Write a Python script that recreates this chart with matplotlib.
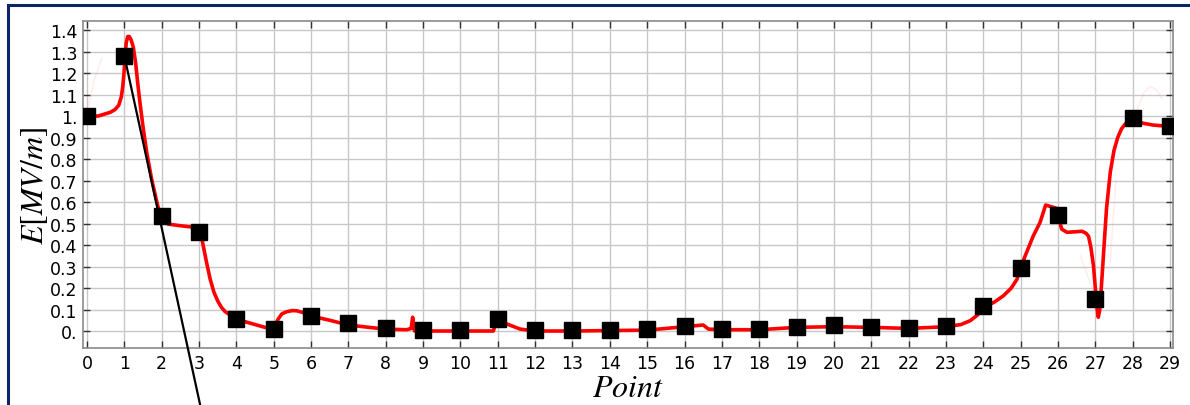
import matplotlib
matplotlib.use("Agg")
import matplotlib.pyplot as plt
from matplotlib.patches import Rectangle
from matplotlib.ticker import FixedLocator, FuncFormatter

plt.rcParams["mathtext.fontset"] = "stix"

# Field strength E at each measurement point (square markers)
points = list(range(30))
e_points = [1.00, 1.28, 0.535, 0.46, 0.055, 0.01, 0.07, 0.035, 0.012, 0.003,
            0.003, 0.055, 0.005, 0.003, 0.003, 0.01, 0.025, 0.01, 0.01, 0.02,
            0.03, 0.02, 0.015, 0.025, 0.115, 0.295, 0.54, 0.15, 0.99, 0.955]

# Red curve
curve_x = [0.0, 0.3, 0.62, 0.75, 0.85, 0.92, 0.96, 0.99, 1.02, 1.05, 1.09,
           1.13, 1.18, 1.24, 1.3, 1.36, 1.42, 1.5, 1.6, 1.73, 1.87, 1.95,
           2.05, 2.18, 2.49, 2.89, 2.98, 3.05, 3.12, 3.2, 3.3, 3.4, 3.5,
           3.6, 3.7, 3.83, 4.0, 4.5, 4.99, 5.05, 5.12, 5.22, 5.35, 5.5,
           5.62, 5.8, 5.97, 6.5, 7.0, 7.5, 7.98, 8.56, 8.68, 8.72, 8.77,
           9.0, 10.0, 10.88, 10.97, 11.1, 11.24, 11.6, 12.0, 13.0, 14.0,
           15.0, 16.0, 16.5, 16.64, 17.0, 18.0, 19.0, 20.0, 21.0, 22.0,
           23.0, 23.4, 23.65, 23.85, 24.02, 24.3, 24.54, 24.75, 24.9, 25.0,
           25.1, 25.34, 25.52, 25.67, 26.03, 26.06, 26.1, 26.24, 26.5,
           26.64, 26.75, 26.82, 26.88, 26.95, 27.0, 27.05, 27.08, 27.12,
           27.16, 27.22, 27.3, 27.4, 27.5, 27.6, 27.7, 27.8, 27.9, 28.0,
           28.15, 28.29, 28.55, 28.96, 29.0]
curve_y = [1.0, 1.0, 1.017, 1.03, 1.05, 1.09, 1.14, 1.2, 1.28, 1.34, 1.37,
           1.37, 1.355, 1.32, 1.25, 1.15, 1.06, 0.95, 0.83, 0.707, 0.6,
           0.545, 0.51, 0.497, 0.49, 0.482, 0.475, 0.45, 0.39, 0.32, 0.24,
           0.18, 0.14, 0.11, 0.09, 0.075, 0.055, 0.03, 0.006, 0.03, 0.056,
           0.08, 0.09, 0.095, 0.094, 0.085, 0.071, 0.05, 0.028, 0.018,
           0.009, 0.006, 0.012, 0.064, 0.0, 0.0, 0.0, 0.0, 0.048, 0.05,
           0.033, 0.009, 0.0, 0.0, 0.002, 0.004, 0.02, 0.028, 0.009, 0.006,
           0.006, 0.017, 0.02, 0.017, 0.012, 0.02, 0.03, 0.048, 0.075, 0.11,
           0.135, 0.164, 0.2, 0.24, 0.29, 0.34, 0.443, 0.505, 0.586, 0.567,
           0.5, 0.474, 0.459, 0.462, 0.464, 0.455, 0.44, 0.39, 0.304, 0.2,
           0.1, 0.064, 0.1, 0.2, 0.36, 0.57, 0.738, 0.84, 0.9, 0.94, 0.963,
           0.978, 0.983, 0.972, 0.966, 0.958, 0.952, 0.952]

# Faint ghost traces
ghost_a_x = [0.05, 0.2, 0.4]
ghost_a_y = [1.05, 1.17, 1.27]
ghost_b_x = [28.1, 28.3, 28.47, 28.65, 28.78]
ghost_b_y = [1.02, 1.11, 1.138, 1.12, 1.08]
ghost_c_x = [27.4, 27.55]
ghost_c_y = [0.32, 0.7]
ghost_d_x = [26.6, 26.95]
ghost_d_y = [0.35, 0.18]

# Straight black line drawn over the plot
line_x = [1.0, 3.03]
line_y = [1.28, -0.344]

y_ticks = [round(0.1 * i, 1) for i in range(15)]


def y_fmt(v, pos):
    s = f"{v:.1f}"
    return s[:-1] if s.endswith("0") else s


fig = plt.figure(figsize=(11.9, 4.06), dpi=100)
ax = fig.add_axes([83 / 1190, 1 - 349 / 406, 1090 / 1190, 327 / 406])

ax.set_xlim(-0.107, 29.08)
ax.set_ylim(-0.079, 1.442)

ax.xaxis.set_major_locator(FixedLocator(points))
ax.yaxis.set_major_locator(FixedLocator(y_ticks))
ax.yaxis.set_major_formatter(FuncFormatter(y_fmt))
ax.grid(True, color="#c8c8c8", linewidth=1.0)
ax.set_axisbelow(True)

ax.tick_params(direction="in", top=True, right=True, length=5, width=1,
               color="#333333", labelsize=12.5, pad=4)
for sp in ax.spines.values():
    sp.set_color("#8a8a8a")
    sp.set_linewidth(1.2)

for gx, gy in [(ghost_a_x, ghost_a_y), (ghost_b_x, ghost_b_y),
               (ghost_c_x, ghost_c_y), (ghost_d_x, ghost_d_y)]:
    ax.plot(gx, gy, color="#ff9090", alpha=0.15, linewidth=1.2)

ax.plot(curve_x, curve_y, color="red", linewidth=2.6, zorder=3,
        solid_joinstyle="round")
ax.plot(line_x, line_y, color="black", linewidth=1.6, zorder=4,
        clip_on=False)
ax.plot(points, e_points, "s", color="black", markersize=11.5, zorder=5)

ax.set_ylabel(r"$E[MV/m]$", fontsize=23, labelpad=0)
ax.set_xlabel(r"$Point$", fontsize=23, labelpad=0)

# navy frame round the picture (left and top edges visible)
fig.patches.append(Rectangle((7.5 / 1190, -0.1), 1.2, 1.1 - 5.5 / 406,
                             transform=fig.transFigure, fill=False,
                             edgecolor="#0b2566", linewidth=2.2))

fig.savefig("out.png", dpi=100)
